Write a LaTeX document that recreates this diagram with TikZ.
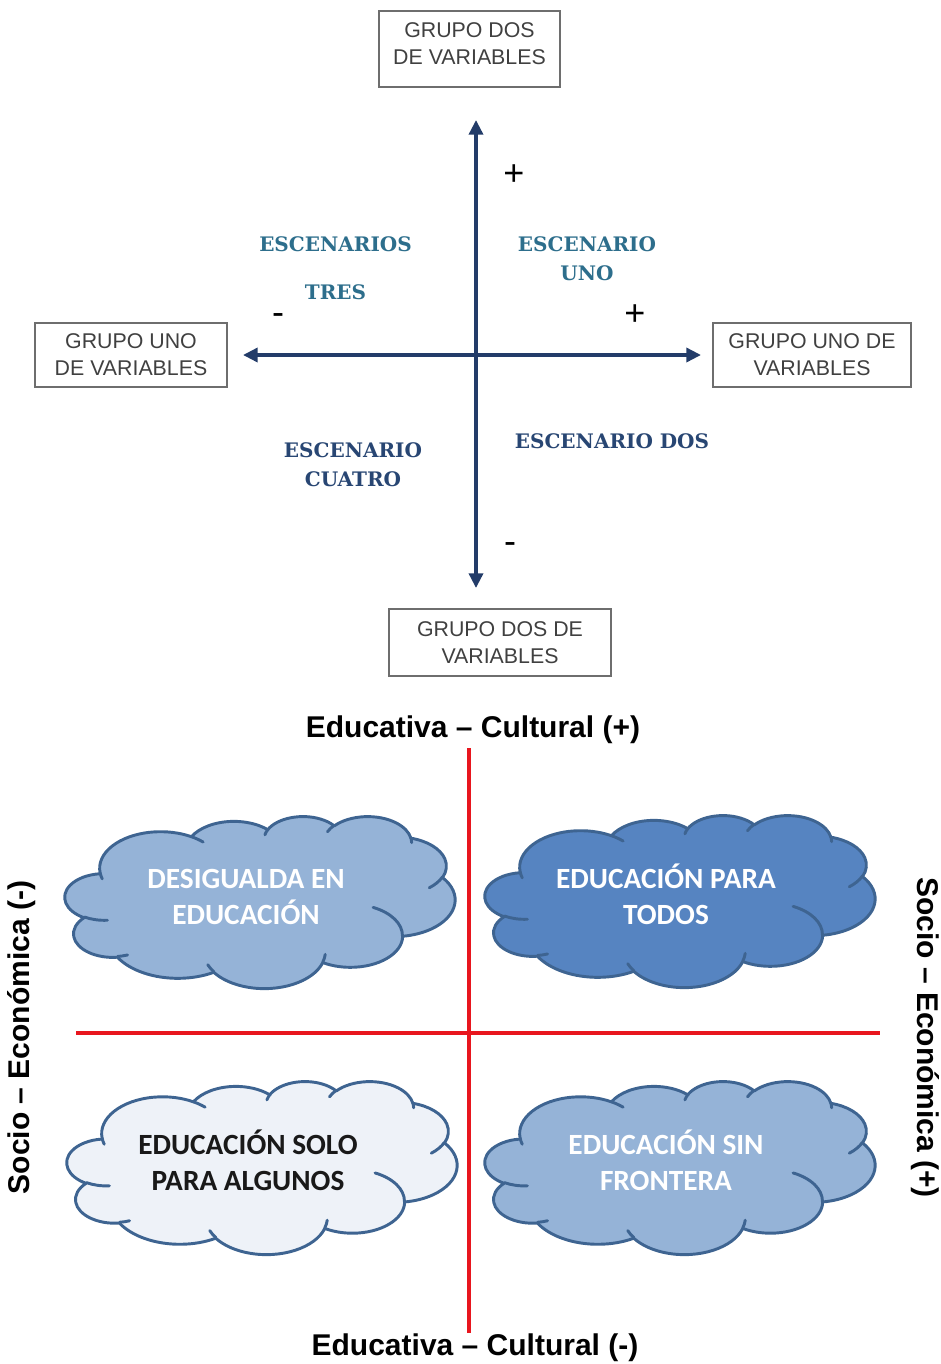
\documentclass[tikz,border=0pt]{standalone}
\usepackage{fontspec}
\setmainfont{Liberation Sans}
\newfontfamily\carlito{Carlito}
\newfontfamily\dvserif{DejaVu Serif}
\usetikzlibrary{arrows.meta}
\definecolor{boxline}{RGB}{110,110,110}
\definecolor{boxtext}{RGB}{64,64,64}
\definecolor{axisblue}{RGB}{35,60,105}
\definecolor{teal}{RGB}{45,110,140}
\definecolor{darkscen}{RGB}{40,70,115}
\definecolor{redline}{RGB}{232,22,30}
\definecolor{cloudline}{RGB}{62,100,145}
\definecolor{cloudlight}{RGB}{149,179,215}
\definecolor{clouddark}{RGB}{86,132,193}
\definecolor{cloudpale}{RGB}{238,242,248}
\definecolor{cloudtext}{RGB}{25,25,25}
% cloud geometry (PowerPoint cloud, units of 1/432 of the box)
\newcommand\cldprep[5]{%
 \pgfmathsetmacro\cldtmpA{atan2((#2)*sin(#4),(#3)*cos(#4))}%
 \pgfmathsetmacro\cldtmpB{atan2((#2)*sin(#4+(#5)),(#3)*cos(#4+(#5)))}%
 \pgfmathsetmacro\cldtmpB{((#5)>0)*(\cldtmpB<\cldtmpA)*360-((#5)<0)*(\cldtmpB>\cldtmpA)*360+\cldtmpB}%
 \expandafter\xdef\csname cld#1\endcsname{arc[start angle=\cldtmpA, end angle=\cldtmpB, x radius=#2, y radius=#3]}%
}
\cldprep{a}{67.53}{91.90}{-190.4875}{123.7805}
\cldprep{b}{53.33}{72.67}{-144.1024}{89.9452}
\cldprep{c}{43.65}{59.45}{-145.8079}{99.7230}
\cldprep{d}{48.57}{65.95}{-130.9861}{117.2417}
\cldprep{e}{53.33}{72.73}{-78.7089}{109.0269}
\cldprep{f}{67.75}{92.20}{-46.2673}{130.2690}
\cldprep{g}{57.85}{78.67}{0.6250}{114.0333}
\cldprep{h}{67.52}{92.15}{22.4516}{115.1726}
\cldprep{i}{77.20}{105.43}{66.2426}{75.7110}
\cldprep{j}{43.60}{59.18}{-274.9421}{146.7356}
\cldprep{k}{43.45}{59.45}{-246.8285}{152.5189}
\cldprep{A}{43.45}{59.45}{86.7420}{26.4295}
\cldprep{B}{43.60}{59.18}{73.6105}{11.4475}
\cldprep{C}{67.52}{92.15}{137.6242}{14.0811}
\cldprep{D}{67.52}{92.15}{6.4533}{15.9984}
\cldprep{E}{57.85}{78.67}{-70.2924}{70.9174}
\cldprep{F}{53.33}{72.73}{30.3180}{27.7515}
\cldprep{G}{48.57}{65.95}{-13.7443}{14.8589}
\cldprep{H}{48.57}{65.95}{-149.1815}{18.1954}
\cldprep{I}{43.65}{59.45}{-163.4943}{17.6864}
\cldprep{J}{67.53}{91.90}{-66.7070}{12.3194}
\cldprep{K}{67.53}{91.90}{157.6544}{11.8582}
\def\cldouter{(39.00,143.70) \clda \cldb \cldc \cldd \clde \cldf \cldg \cldh \cldi \cldj \cldk -- cycle}
\def\cldinner{(46.93,261.77) \cldA (69.28,348.99) \cldB (164.78,390.90) \cldC (288.27,347.51) \cldD (341.29,229.54) \cldE (417.98,153.54) \cldF (383.24,54.26) \cldG (290.78,39.52) \cldH (221.41,47.20) \cldI (140.00,51.92) \cldJ (41.27,157.89) \cldK}
\newcommand\cloudat[5]{%
 \pgfmathsetmacro\cldsx{(#3)*0.75/432}%
 \pgfmathsetmacro\cldsy{(#4)*0.75/432}%
 \begin{scope}[shift={(#1,#2)}, x=\cldsx pt, y=-\cldsy pt]
  \draw[cloudshape, fill=#5] \cldouter;
  \draw[cloudshape] \cldinner;
 \end{scope}}
\begin{document}
\begin{tikzpicture}[x=0.75pt,y=-0.75pt,
  varbox/.style={draw=boxline, line width=1.4pt, align=center, text=boxtext,
    font=\fontsize{16pt}{20.25pt}\selectfont, inner sep=0pt},
  axisarrow/.style={draw=axisblue, line width=2.6pt, -{Triangle[length=11pt,width=10.5pt]}},
  sign/.style={font=\fontsize{27pt}{30pt}\selectfont, inner sep=0pt},
  scen/.style={font=\dvserif\bfseries\fontsize{15pt}{21.75pt}\selectfont, align=center, inner sep=0pt},
  axlabel/.style={font=\bfseries\fontsize{22.5pt}{27pt}\selectfont, inner sep=0pt},
  redaxis/.style={draw=redline, line width=2.6pt},
  cloudshape/.style={draw=cloudline, line width=2.2pt, line join=round, line cap=round},
  cloudlabel/.style={font=\carlito\bfseries\fontsize{22pt}{27pt}\selectfont, align=center, inner sep=0pt}]
\useasboundingbox (0,0) rectangle (941,1364);
% ---------- upper diagram ----------
\node[varbox, minimum width=135.75pt, minimum height=57pt, text depth=8pt] (top) at (469.5,49) {GRUPO DOS\\DE VARIABLES};
\node[varbox, minimum width=144pt, minimum height=48pt] (left) at (131,355) {GRUPO UNO\\DE VARIABLES};
\node[varbox, minimum width=148.5pt, minimum height=48pt] (right) at (812,355) {GRUPO UNO DE\\VARIABLES};
\node[varbox, minimum width=166.5pt, minimum height=50.25pt] (bottom) at (500,642.5) {GRUPO DOS DE\\VARIABLES};
\coordinate (O) at (476,355);
\coordinate (Ntip) at (476,120);
\coordinate (Stip) at (476,588);
\coordinate (Wtip) at (243,355);
\coordinate (Etip) at (701,355);
\draw[axisarrow] (O) -- (Ntip);
\draw[axisarrow] (O) -- (Stip);
\draw[axisarrow] (O) -- (Wtip);
\draw[axisarrow] (O) -- (Etip);
\node[sign] (plusN) at (514,175) {+};
\node[sign] (plusE) at (635,315) {+};
\node[sign] (minusW) at (278,319) {-};
\node[sign] (minusS) at (510,548) {-};
\node[scen, text=teal] (s3) at (335.5,268) {ESCENARIOS\\[14pt]TRES};
\node[scen, text=teal] (s1) at (587,258.5) {ESCENARIO\\UNO};
\node[scen, text=darkscen] (s4) at (353,465) {ESCENARIO\\CUATRO};
\node[scen, text=darkscen] (s2) at (612,441) {ESCENARIO DOS};
% ---------- lower diagram ----------
\coordinate (Rtop) at (469,748);
\coordinate (Rbot) at (469,1333);
\coordinate (Rleft) at (76,1033);
\coordinate (Rright) at (880,1033);
\draw[redaxis] (Rtop) -- (Rbot);
\draw[redaxis] (Rleft) -- (Rright);
\cloudat{65}{816}{390}{172}{cloudlight}
\cloudat{485}{815}{390}{172}{clouddark}
\cloudat{67}{1081}{390}{173}{cloudpale}
\cloudat{485}{1081}{390}{173}{cloudlight}
\node[cloudlabel, text=white] (c1) at (246,897) {DESIGUALDA EN\\EDUCACIÓN};
\node[cloudlabel, text=white] (c2) at (666,894) {EDUCACIÓN PARA\\TODOS};
\node[cloudlabel, text=cloudtext] (c3) at (248,1160.5) {EDUCACIÓN SOLO\\PARA ALGUNOS};
\node[cloudlabel, text=white] (c4) at (666,1160) {EDUCACIÓN SIN\\FRONTERA};
\node[axlabel] (edplus) at (473,730) {Educativa – Cultural (+)};
\node[axlabel] (edminus) at (475,1348) {Educativa – Cultural (-)};
\node[axlabel, rotate=90] (sominus) at (22,1037.5) {Socio – Económica (-)};
\node[axlabel, rotate=-90] (soplus) at (925,1037.5) {Socio – Económica (+)};
\end{tikzpicture}
\end{document}
